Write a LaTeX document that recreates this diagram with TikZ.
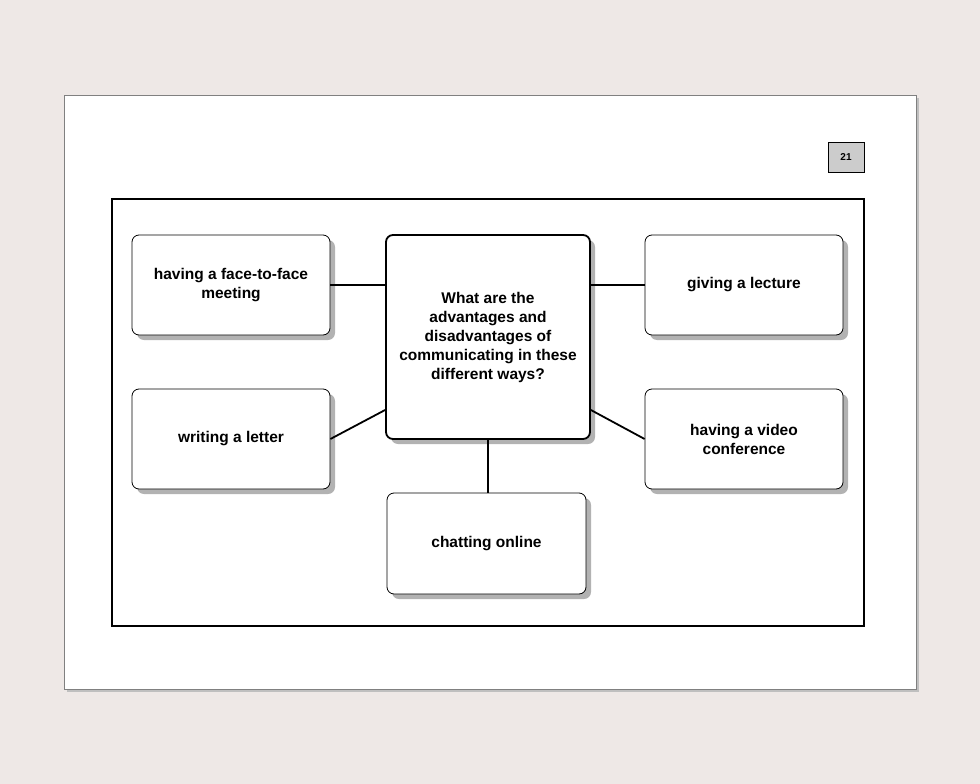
\documentclass[tikz,border=0pt]{standalone}
\usepackage{fontspec}
\setmainfont{Liberation Sans}
\usetikzlibrary{shadows}
\definecolor{bg}{HTML}{EEE8E6}
\begin{document}
\begin{tikzpicture}[x=1pt,y=-1pt,
  box/.style={draw=black,line width=0.8pt,fill=white,rounded corners=7pt,
    drop shadow={shadow xshift=5pt,shadow yshift=-5pt,fill=black!50,opacity=0.6},
    font=\bfseries\fontsize{15.5}{19}\selectfont,align=center},
  conn/.style={line width=1.8pt}]
\fill[bg] (0,0) rectangle (980,784);
\useasboundingbox (0,0) rectangle (980,784);
\fill[black!25] (67,98) rectangle (919,692);
\draw[black!50,fill=white] (64,95) rectangle (916,689);
\node[draw,fill=black!20,line width=1pt,minimum width=36pt,minimum height=30pt,font=\bfseries\fontsize{10}{12}\selectfont] (num) at (846,157) {21};
\draw[line width=1.2pt] (112,199) rectangle (864,626);
\node[box,minimum width=198pt,minimum height=100pt] (face) at (231,285) {having a face-to-face\\meeting};
\node[box,line width=1.8pt,minimum width=204pt,minimum height=204pt] (center) at (488,337) {What are the\\advantages and\\disadvantages of\\communicating in these\\different ways?};
\node[box,minimum width=198pt,minimum height=100pt] (lect) at (744,285) {giving a lecture};
\node[box,minimum width=198pt,minimum height=100pt] (letter) at (231,439) {writing a letter};
\node[box,minimum width=198pt,minimum height=100pt] (video) at (744,439) {having a video\\conference};
\node[box,minimum width=199pt,minimum height=101pt] (chat) at (486.5,543.5) {chatting online};
\draw[conn] (face.east) -- (center.west |- face.east);
\draw[conn] (center.east |- lect.west) -- (lect.west);
\draw[conn] (letter.east) -- ([yshift=-73pt]center.west);
\draw[conn] ([yshift=-73pt]center.east) -- (video.west);
\draw[conn] (center.south) -- (center.south |- chat.north);
\end{tikzpicture}
\end{document}
